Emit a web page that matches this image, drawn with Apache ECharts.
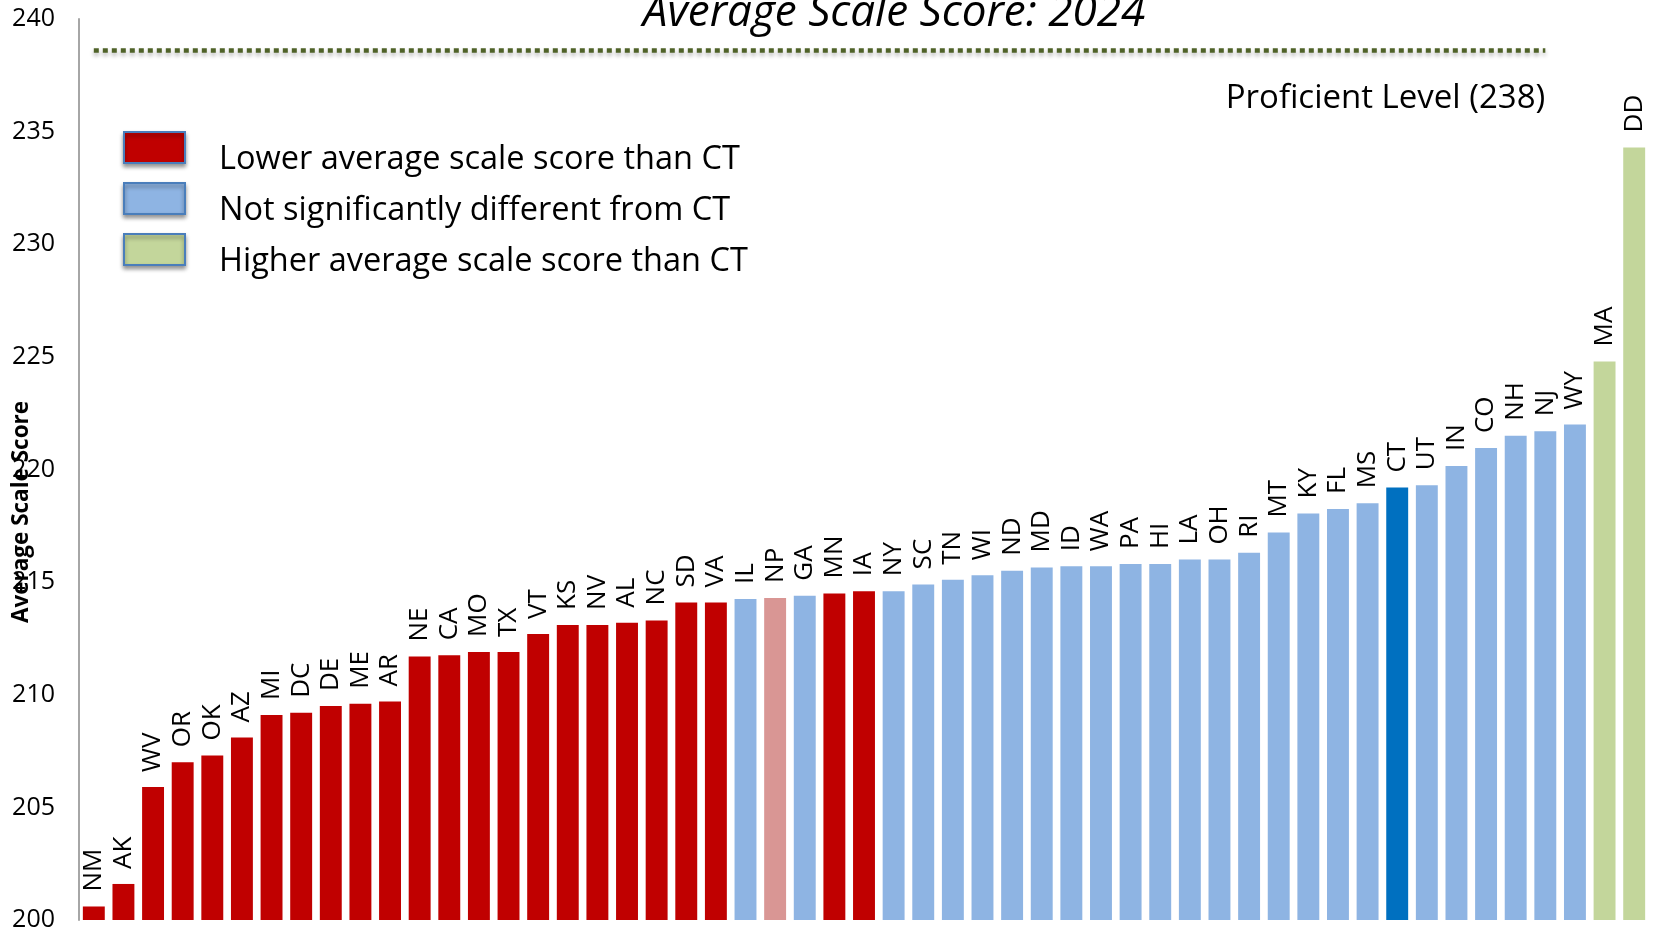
<!DOCTYPE html>
<html>
<head>
    <meta charset="utf-8"/>
    <title>Average Scale Score: 2024</title>
    <script src="https://cdn.jsdelivr.net/npm/echarts@6/dist/echarts.min.js"></script>
    <style>
        html, body { margin: 0; padding: 0; background: #fff; }
        #main { width: 1658px; height: 938px; }
    </style>
</head>
<body>
<div id="main"></div>
<script type="text/javascript">
    // states, sorted by score
    var states = ['NM', 'AK', 'WV', 'OR', 'OK', 'AZ', 'MI', 'DC', 'DE', 'ME', 'AR',
        'NE', 'CA', 'MO', 'TX', 'VT', 'KS', 'NV', 'AL', 'NC', 'SD', 'VA',
        'IL', 'NP', 'GA', 'MN', 'IA', 'NY', 'SC', 'TN', 'WI', 'ND', 'MD',
        'ID', 'WA', 'PA', 'HI', 'LA', 'OH', 'RI', 'MT', 'KY', 'FL', 'MS',
        'CT', 'UT', 'IN', 'CO', 'NH', 'NJ', 'WY', 'MA', 'DD'];
    var scores = [200.6, 201.6, 205.9, 207.0, 207.3, 208.1, 209.1, 209.2, 209.5, 209.6, 209.7,
        211.7, 211.75, 211.9, 211.9, 212.7, 213.1, 213.1, 213.2, 213.3, 214.1, 214.1,
        214.25, 214.3, 214.4, 214.5, 214.6, 214.6, 214.9, 215.1, 215.3, 215.5, 215.65,
        215.7, 215.7, 215.8, 215.8, 216.0, 216.0, 216.3, 217.2, 218.05, 218.25, 218.5,
        219.2, 219.3, 220.15, 220.95, 221.5, 221.7, 222.0, 224.8, 234.3];
    // L = lower than CT, N = not significantly different, H = higher
    var groups = ['L', 'L', 'L', 'L', 'L', 'L', 'L', 'L', 'L', 'L', 'L',
        'L', 'L', 'L', 'L', 'L', 'L', 'L', 'L', 'L', 'L', 'L',
        'N', 'L', 'N', 'L', 'L', 'N', 'N', 'N', 'N', 'N', 'N',
        'N', 'N', 'N', 'N', 'N', 'N', 'N', 'N', 'N', 'N', 'N',
        'N', 'N', 'N', 'N', 'N', 'N', 'N', 'H', 'H'];
    var groupNames = {
        L: 'Lower average scale score than CT',
        N: 'Not significantly different from CT',
        H: 'Higher average scale score than CT'
    };
    var yTicks = [200, 205, 210, 215, 220, 225, 230, 235, 240];
    var proficientScore = 238;
    var proficientLineAt = 238.6;   // where the dotted line sits in the picture

    var FONT = '"Open Sans", "Noto Sans", sans-serif';
    var colors = { L: '#C00000', N: '#8EB4E3', H: '#C3D69B' };
    var special = { CT: '#0070C0', NP: '#D99694' };
    var legendNames = ['L', 'N', 'H'].map(function (g) { return groupNames[g]; });

    function groupData(g) {
        return states.map(function (s, i) {
            if (groups[i] !== g) return '-';
            if (special[s]) return { value: scores[i], itemStyle: { color: special[s] } };
            return scores[i];
        });
    }

    var labelOpt = {
        show: true,
        position: 'top',
        rotate: 90,
        align: 'left',
        verticalAlign: 'middle',
        distance: 15,
        formatter: '{b}',
        fontFamily: FONT,
        fontSize: 26,
        color: '#000'
    };

    var series = ['L', 'N', 'H'].map(function (g, k) {
        var s = {
            name: groupNames[g],
            type: 'bar',
            barGap: '-100%',
            barCategoryGap: '26%',
            itemStyle: { color: colors[g] },
            label: labelOpt,
            data: groupData(g)
        };
        if (k === 0) {
            s.markLine = {
                silent: true,
                symbol: 'none',
                lineStyle: {
                    color: '#4F6228', width: 4.5, type: [5, 4],
                    shadowColor: 'rgba(0,0,0,0.3)', shadowBlur: 4, shadowOffsetY: 3
                },
                label: {
                    show: true,
                    position: 'insideEndBottom',
                    distance: [0, 32],
                    formatter: 'Proficient Level (' + proficientScore + ')',
                    fontFamily: FONT,
                    fontSize: 33,
                    color: '#000'
                },
                data: [[
                    { xAxis: 'NM', yAxis: proficientLineAt },
                    { xAxis: 'NJ', yAxis: proficientLineAt }
                ]]
            };
        }
        return s;
    });

    var myChart = echarts.init(document.getElementById('main'));
    myChart.setOption({
        animation: false,
        backgroundColor: '#fff',
        textStyle: { fontFamily: FONT },
        title: {
            text: 'Average Scale Score: 2024',
            left: 889,
            textAlign: 'center',
            top: -14,
            textStyle: { fontFamily: FONT, fontSize: 44, fontStyle: 'italic', fontWeight: 'normal', color: '#000' }
        },
        // boxes and texts sit in two legends, the texts are a little lower than the boxes
        legend: [{
            orient: 'vertical',
            left: 123,
            top: 131,
            padding: 0,
            itemWidth: 61,
            itemHeight: 31,
            itemGap: 18,
            icon: 'rect',
            selectedMode: false,
            formatter: function () { return ''; },
            itemStyle: {
                borderColor: '#4A7EBB', borderWidth: 2,
                shadowColor: 'rgba(0,0,0,0.4)', shadowBlur: 4, shadowOffsetY: 3
            },
            data: legendNames
        }, {
            orient: 'vertical',
            left: 214,
            top: 143,
            padding: 0,
            itemWidth: 0,
            itemHeight: 31,
            itemGap: 18,
            icon: 'none',
            selectedMode: false,
            textStyle: { fontFamily: FONT, fontSize: 32.5, color: '#000', lineHeight: 31 },
            data: legendNames
        }],
        // axis title, placed as in the picture (a bit below the middle of the axis)
        graphic: [{
            type: 'text',
            x: 22,
            y: 512,
            rotation: Math.PI / 2,
            style: {
                text: 'Average Scale Score',
                fontFamily: FONT,
                fontSize: 22.5,
                fontWeight: 'bold',
                fill: '#000',
                align: 'center',
                verticalAlign: 'middle'
            }
        }],
        grid: { left: 79, right: 9, top: 19, bottom: 18, containLabel: false, outerBoundsMode: 'none' },
        xAxis: {
            type: 'category',
            data: states,
            axisLine: { show: false },
            axisTick: { show: false },
            axisLabel: { show: false }
        },
        yAxis: {
            type: 'value',
            min: yTicks[0],
            max: yTicks[yTicks.length - 1],
            interval: yTicks[1] - yTicks[0],
            axisLine: { show: true, lineStyle: { color: '#A6A6A6', width: 2 } },
            axisTick: { show: false },
            splitLine: { show: false },
            axisLabel: { fontFamily: FONT, fontSize: 25, color: '#000', margin: 24 }
        },
        series: series
    });
</script>
</body>
</html>
